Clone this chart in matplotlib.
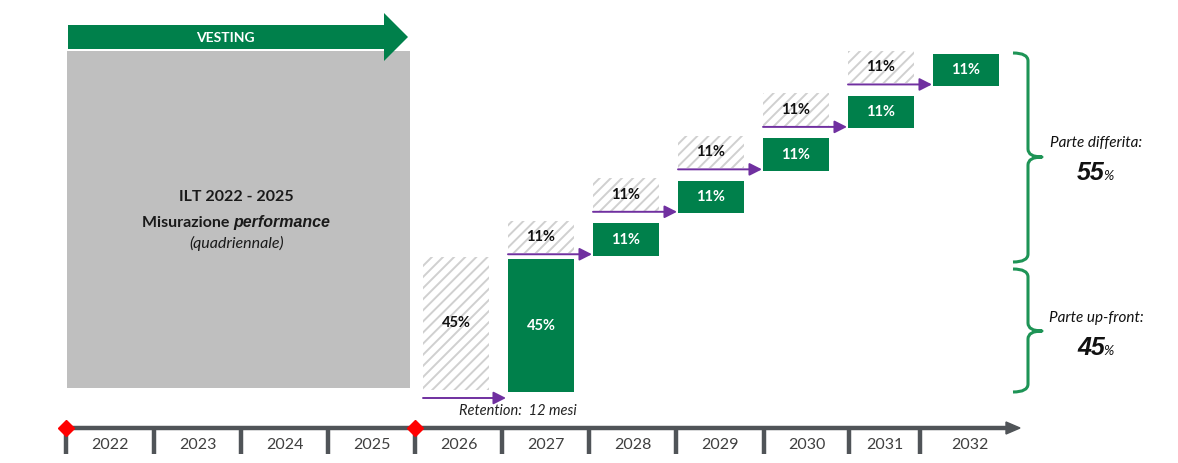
import matplotlib
matplotlib.use('Agg')
import matplotlib.pyplot as plt
from matplotlib.patches import Rectangle, Polygon, PathPatch, FancyArrowPatch, ArrowStyle
from matplotlib.path import Path

# ---------------- data ----------------
years = [2022, 2023, 2024, 2025, 2026, 2027, 2028, 2029, 2030, 2031, 2032]
perf_years = [2022, 2025]
upfront_year = 2027
upfront_pct = 45
deferred_years = [2028, 2029, 2030, 2031, 2032]
deferred_pct = [11, 11, 11, 11, 11]
milestones = [2022, 2026]
vesting_label = 'VESTING'
perf_lines = ['ILT 2022 - 2025', 'Misurazione ', 'performance', '(quadriennale)']
retention_label = 'Retention:  12 mesi'
brace_labels = ['Parte differita:', 'Parte up-front:']
brace_pcts = [55, 45]

# ---------------- layout ----------------
W, H = 1178, 463
GREEN = '#00804B'
PURPLE = '#7030A0'
AXC = '#505458'
FONT = ['Lato', 'DejaVu Sans']
BIFONT = ['Liberation Sans', 'DejaVu Sans']

fig = plt.figure(figsize=(W / 100, H / 100), dpi=100)
ax = fig.add_axes([0, 0, 1, 1])
ax.set_xlim(0, W)
ax.set_ylim(H, 0)
ax.axis('off')
plt.rcParams['hatch.linewidth'] = 1.4

tick_x = [66, 154, 241, 328, 415, 502, 589, 676, 764, 849, 920]
axis_end = 1020
axis_y = 428

# timeline
ax.plot([tick_x[0], axis_end - 12], [axis_y, axis_y], color=AXC, lw=3.2, solid_capstyle='butt', zorder=2)
ax.add_patch(Polygon([[axis_end - 14, axis_y - 6], [axis_end, axis_y], [axis_end - 14, axis_y + 6]],
                     closed=True, color=AXC, zorder=2))
for tx in tick_x:
    ax.plot([tx, tx], [axis_y, axis_y + 26], color=AXC, lw=3.2, solid_capstyle='butt', zorder=2)
edges = tick_x + [axis_end]
for i, y in enumerate(years):
    cx = (edges[i] + edges[i + 1]) / 2
    ax.text(cx, axis_y + 17, str(y), ha='center', va='center', fontsize=11.5,
            color='#404040', family=FONT)
for m in milestones:
    mx = tick_x[years.index(m)]
    ax.plot(mx, axis_y, marker='D', color='#FF0000', markersize=8.5, zorder=3)

# performance period box + vesting arrow
gx0 = tick_x[years.index(perf_years[0])] + 1
gx1 = tick_x[years.index(perf_years[1]) + 1] - 5
ax.add_patch(Rectangle((gx0, 51), gx1 - gx0, 337, color='#BFBFBF', lw=0, zorder=1))
ax.add_patch(Polygon([[gx0 + 1, 25], [gx1 - 26, 25], [gx1 - 26, 13], [gx1 - 2, 37],
                      [gx1 - 26, 61], [gx1 - 26, 49], [gx0 + 1, 49]],
                     closed=True, color=GREEN, lw=0, zorder=3))
ax.text((gx0 + gx1 - 26) / 2, 37.5, vesting_label, ha='center', va='center', color='white',
        fontsize=10, fontweight='bold', family=FONT, zorder=4)

pcx = (gx0 + gx1) / 2 - 2
ax.text(pcx, 197, perf_lines[0], ha='center', va='center', fontsize=11.5, fontweight='bold',
        color='#1a1a1a', family=FONT)
fig.canvas.draw()
r = fig.canvas.get_renderer()
t1 = ax.text(0, 223, perf_lines[1], ha='left', va='center', fontsize=11.5, fontweight='bold',
             color='#1a1a1a', family=FONT)
t2 = ax.text(0, 223, perf_lines[2], ha='left', va='center', fontsize=11.5, fontweight='bold',
             style='italic', color='#1a1a1a', family=BIFONT)
w1 = t1.get_window_extent(r).width
w2 = t2.get_window_extent(r).width
t1.set_x(pcx - (w1 + w2) / 2)
t2.set_x(pcx - (w1 + w2) / 2 + w1)
ax.text(pcx, 243, perf_lines[3], ha='center', va='center', fontsize=11.5, style='italic',
        color='#1a1a1a', family=FONT)

# bars
ppp = 2.95            # pixels per percentage point
base_y = 392
col0_year = 2026
col_x0, col_step, bw = 423, 85.0, 66


def colx(year):
    return col_x0 + (year - col0_year) * col_step


def box(year, bottom, pct, green):
    h = pct * ppp
    x = colx(year)
    if green:
        ax.add_patch(Rectangle((x, bottom - h), bw, h, facecolor=GREEN, edgecolor='none', zorder=3))
        c = 'white'
    else:
        ax.add_patch(Rectangle((x, bottom - h), bw, h, facecolor='white', edgecolor='#D0D0D0',
                               hatch='///', lw=0, zorder=3))
        c = '#111111'
    ax.text(x + bw / 2, bottom - h / 2, f'{pct}%', ha='center', va='center', fontsize=10.5,
            fontweight='bold', color=c, family=FONT, zorder=4)
    return x


def parrow(x0, x1, y):
    a = FancyArrowPatch((x0, y), (x1, y), arrowstyle=ArrowStyle('-|>', head_length=0.75, head_width=0.38),
                        mutation_scale=10, color=PURPLE, lw=1.4, shrinkA=0, shrinkB=0, zorder=5)
    ax.add_patch(a)


# up-front
box(upfront_year - 1, base_y - 2.5, upfront_pct, False)
box(upfront_year, base_y, upfront_pct, True)
parrow(colx(upfront_year - 1), colx(upfront_year) - 2, base_y + 6)
ax.text(colx(upfront_year) + bw / 2 - 23, base_y + 19, retention_label, ha='center', va='center',
        fontsize=10.5, style='italic', color='#222222', family=FONT)

# deferred
gap1, gap2 = 3.5, 10
bottom = base_y - upfront_pct * ppp - gap1
for k, (yr, p) in enumerate(zip(deferred_years, deferred_pct)):
    box(yr - 1, bottom - 2.5, p, False)
    box(yr, bottom, p, True)
    parrow(colx(yr - 1), colx(yr) - 1, bottom - 1.5)
    bottom -= p * ppp + gap2


# braces
def brace(x0, y0, y1, ym):
    xs = x0 + 15
    xt = x0 + 29
    verts = [(x0, y0), (xs, y0), (xs, y0 + 8),
             (xs, ym - 8), (xs, ym), (xt, ym),
             (xs, ym), (xs, ym + 8),
             (xs, y1 - 8), (xs, y1), (x0, y1)]
    codes = [Path.MOVETO, Path.CURVE3, Path.CURVE3,
             Path.LINETO, Path.CURVE3, Path.CURVE3,
             Path.CURVE3, Path.CURVE3,
             Path.LINETO, Path.CURVE3, Path.CURVE3]
    ax.add_patch(PathPatch(Path(verts, codes), facecolor='none', edgecolor='#1E9456', lw=2.2,
                           capstyle='butt', joinstyle='round', zorder=3))


brace(1013, 53, 262, 157)
brace(1013, 269, 392, 331)

for lab, pct, ly in zip(brace_labels, brace_pcts, [143, 318]):
    cx = 1096
    ax.text(cx, ly, lab, ha='center', va='center', fontsize=11, style='italic',
            color='#111111', family=FONT)
    ta = ax.text(0, ly + 37, str(pct), ha='left', va='baseline', fontsize=18, fontweight='bold',
                 style='italic', color='#111111', family=BIFONT)
    tb = ax.text(0, ly + 37, '%', ha='left', va='baseline', fontsize=10, style='italic',
                 color='#111111', family=FONT)
    wa = ta.get_window_extent(r).width
    wb = tb.get_window_extent(r).width
    ta.set_x(cx - (wa + wb) / 2)
    tb.set_x(cx - (wa + wb) / 2 + wa - 1)

fig.savefig('out.png', dpi=100)
